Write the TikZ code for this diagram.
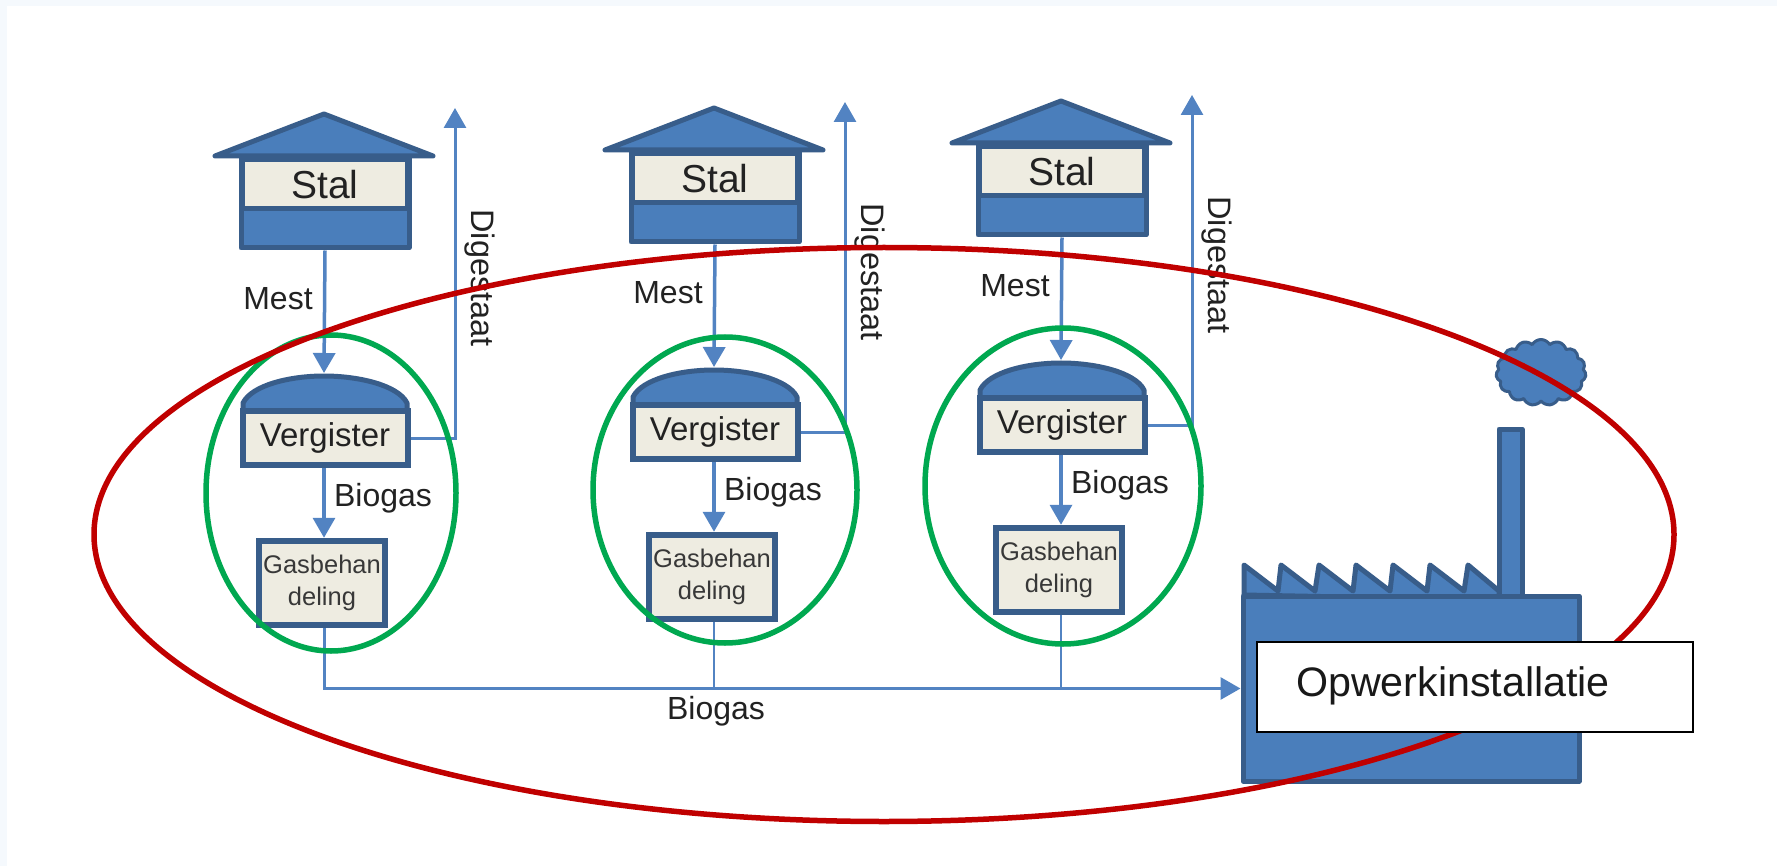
\documentclass[tikz,border=0pt]{standalone}
\usepackage{fontspec}
\setmainfont{Liberation Sans}
\usetikzlibrary{arrows.meta,shapes.symbols}
\definecolor{bandcol}{HTML}{F5F9FD}
\definecolor{fillblue}{HTML}{4A7EBB}
\definecolor{edgeblue}{HTML}{385D8A}
\definecolor{linkblue}{HTML}{5283C2}
\definecolor{creamcol}{HTML}{EEECE1}
\definecolor{redcol}{HTML}{C00000}
\definecolor{greencol}{HTML}{00A850}
\definecolor{inkcol}{HTML}{222222}
\newcommand{\fs}[1]{\fontsize{#1}{#1}\selectfont}
\tikzset{
  shapeblue/.style={draw=edgeblue,fill=fillblue,line width=5pt,line join=round,inner sep=0pt},
  creambox/.style={draw=edgeblue,fill=creamcol,line width=5pt,inner sep=0pt,text=inkcol,align=center},
  link/.style={draw=linkblue,line width=3.5pt},
  arrowlink/.style={link,-{Triangle[width=22pt,length=20pt]}},
  lbl/.style={text=inkcol,inner sep=0pt,font=\fs{32}},
  greenring/.style={draw=greencol,line width=5.5pt},
  redring/.style={draw=redcol,line width=5.5pt}
}
\begin{document}
\begin{tikzpicture}[x=1pt,y=-1pt]
\useasboundingbox (0,0) rectangle (1777,866);
\fill[bandcol] (0,0) rectangle (1777,866);
\fill[white] (7,6) rectangle (1777,866);
% factory
\draw[shapeblue] (1499,429) rectangle (1522,600);
\draw[shapeblue] (1244,595) -- (1244,565) -- (1278,591) -- (1281,565) -- (1315,591) -- (1319,565) -- (1353,591) -- (1356,565) -- (1390,591) -- (1393,565) -- (1427,591) -- (1430,565) -- (1464,591) -- (1468,565) -- (1499,591) -- (1499,600) -- cycle;
\node[shapeblue,minimum width=336pt,minimum height=185pt] (factory) at (1411,688.5) {};
\node[cloud,cloud puffs=15,cloud puff arc=120,aspect=1.35,shapeblue,line width=3pt,minimum width=90pt,minimum height=66pt] (smoke) at (1541,372.5) {};
% the three units
\foreach \i/\dx/\dy in {1/0/0,2/390/-6,3/737/-13}{
  \begin{scope}[shift={(\dx,\dy)}]
    \draw[shapeblue] (215,156) -- (324,114) -- (433,156) -- cycle;
    \node[shapeblue,minimum width=168pt,minimum height=89pt] (stal\i) at (325,203.5) {};
    \node[creambox,minimum width=165pt,minimum height=49pt,font=\fs{39}] (stalname\i) at (325,184.5) {Stal};
    \coordinate (dome\i) at (324,373);
    \draw[shapeblue] (243,413) -- (243,403) .. controls (252,385) and (290,376) .. (324,376) .. controls (358,376) and (398,385) .. (407,403) -- (407,413) -- cycle;
    \node[creambox,minimum width=165pt,minimum height=54pt,font=\fs{33},line width=6pt] (verg\i) at (325,438) {Vergister};
    \node[creambox,minimum width=126pt,minimum height=84pt,font=\fs{25.5},line width=6.5pt,text=inkcol!90!white] (gas\i) at (322,583) {Gasbehan\\[7pt]deling};
    \coordinate (digtop\i) at (455,108);
    \draw[arrowlink] (stal\i.south) -- (dome\i);
    \draw[arrowlink] (verg\i.south -| dome\i) -- (dome\i |- gas\i.north);
    \draw[arrowlink,line width=3pt] (verg\i.east) -| (digtop\i);
    \node[lbl] (mest\i) at (278,299) {Mest};
    \node[lbl] (biogas\i) at (383,498) {Biogas};
    \node[lbl,rotate=-90,font=\fs{32.5}] (digestaat\i) at (480,278) {Digestaat};
  \end{scope}
}
% collecting pipe
\draw[arrowlink,line width=3pt] (gas1.south -| dome1) |- (factory.west);
\draw[link,line width=2.5pt] (gas2.south -| dome2) -- (dome2 |- factory.west);
\draw[link,line width=2.5pt] (gas3.south -| dome3) -- (dome3 |- factory.west);
\node[lbl] (biogasmain) at (716,711) {Biogas};
% rings
\draw[greenring] (331,493) ellipse [x radius=125pt,y radius=158pt];
\draw[greenring] (725,490) ellipse [x radius=132pt,y radius=153pt];
\draw[greenring] (1063,486) ellipse [x radius=138pt,y radius=158pt];
\draw[redring] (884,534.5) ellipse [x radius=790pt,y radius=287pt];
% label box
\node[draw=black,line width=1.5pt,fill=white,minimum width=436pt,minimum height=90pt,inner sep=0pt] (plant) at (1475,687) {};
\node[anchor=west,inner sep=0pt,font=\fs{41.2},text=black!90!white] (plantname) at (1296,686) {Opwerkinstallatie};
\end{tikzpicture}
\end{document}
